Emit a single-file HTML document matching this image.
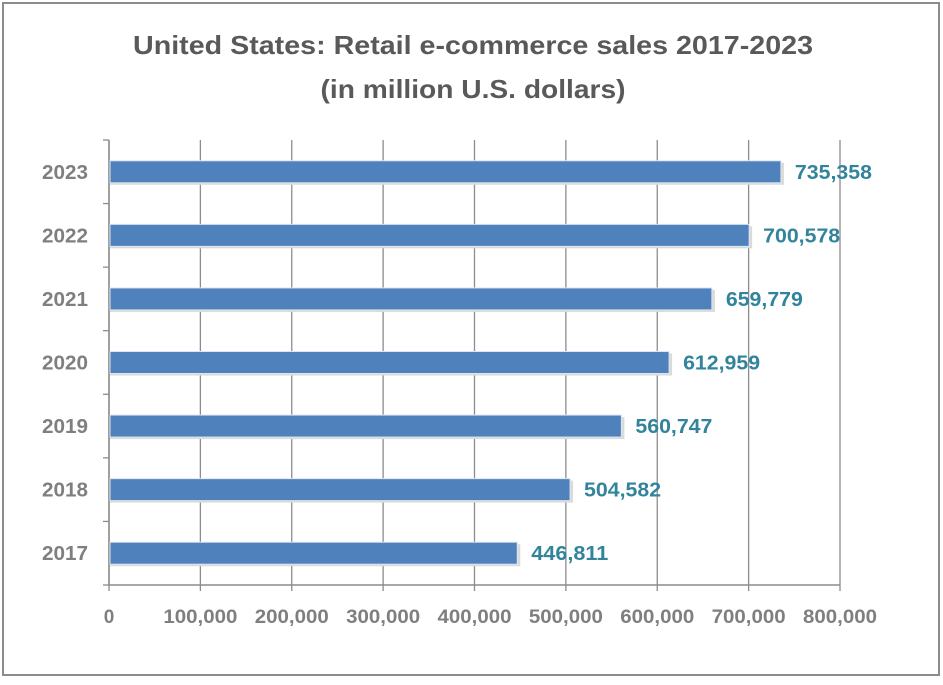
<!DOCTYPE html>
<html><head><meta charset="utf-8"><style>
body{margin:0;background:#fff;width:943px;height:680px;overflow:hidden;font-family:"Liberation Sans",sans-serif}
</style></head><body>
<svg width="943" height="680">
<rect x="3" y="3" width="936" height="672" fill="#fff" stroke="#8c8c8c" stroke-width="2"/>
<text x="473" y="54" text-anchor="middle" font-size="26" font-weight="bold" fill="#595959" textLength="680" lengthAdjust="spacingAndGlyphs">United States: Retail e-commerce sales 2017-2023</text>
<text x="473" y="98" text-anchor="middle" font-size="26" font-weight="bold" fill="#595959" textLength="305" lengthAdjust="spacingAndGlyphs">(in million U.S. dollars)</text>
<g id="plot"></g>
</svg>
<script>
const categories=["2023","2022","2021","2020","2019","2018","2017"];
const values=[735358,700578,659779,612959,560747,504582,446811];
const valueLabels=["735,358","700,578","659,779","612,959","560,747","504,582","446,811"];
const xTicks=[0,100000,200000,300000,400000,500000,600000,700000,800000];
const xTickLabels=["0","100,000","200,000","300,000","400,000","500,000","600,000","700,000","800,000"];
const NS="http://www.w3.org/2000/svg";
const g=document.getElementById('plot');
const x0=109,x1=840,yTop=140,yBot=585,xMax=800000;
const xs=v=>x0+(v/xMax)*(x1-x0);
const band=(yBot-yTop)/categories.length;
const ys=i=>yTop+band*i;
function mk(t,a){const e=document.createElementNS(NS,t);for(const k in a)e.setAttribute(k,a[k]);g.appendChild(e);return e;}
xTicks.forEach((v,i)=>{
 const gl=mk('line',{x1:xs(v),x2:xs(v),y1:yTop,y2:yBot+6,stroke:'#8c8c8c','stroke-width':1.3});
 
 
 const a={x:xs(v),y:623,'text-anchor':'middle','font-size':19,'font-weight':'bold',fill:'#7f7f7f'};
 if(xTickLabels[i].length>1){a.textLength=74;a.lengthAdjust='spacingAndGlyphs';}
 const t=mk('text',a);
 t.textContent=xTickLabels[i];
 
 
});
const ax=mk('line',{x1:x0,x2:x1,y1:yBot,y2:yBot,stroke:'#8c8c8c','stroke-width':1.5});


const ay=mk('line',{x1:x0,x2:x0,y1:yTop,y2:yBot,stroke:'#8c8c8c','stroke-width':1.5});


for(let i=0;i<=categories.length;i++){
 const tk=mk('line',{x1:x0-6,x2:x0,y1:ys(i),y2:ys(i),stroke:'#8c8c8c','stroke-width':1.3});
 
 
}
categories.forEach((c,i)=>{
 const cy=ys(i)+band/2;
 const sh=mk('rect',{x:x0+1,y:cy-9,width:xs(values[i])-x0+2,height:22,fill:'#dadada'});
 
 
 const b=mk('rect',{x:x0+1,y:cy-11,width:xs(values[i])-x0-1,height:22,fill:'#4f81bd',stroke:'#dce6f2','stroke-width':1});
 
 
 const l=mk('text',{x:88,y:cy+7,'text-anchor':'end','font-size':20,'font-weight':'bold',fill:'#7f7f7f',textLength:46,lengthAdjust:'spacingAndGlyphs'});
 l.textContent=c;
 
 
 const v=mk('text',{x:xs(values[i])+14,y:cy+7,'font-size':20,'font-weight':'bold',fill:'#31849b',textLength:77,lengthAdjust:'spacingAndGlyphs'});
 v.textContent=valueLabels[i];
 
 
});
</script>
</body></html>
